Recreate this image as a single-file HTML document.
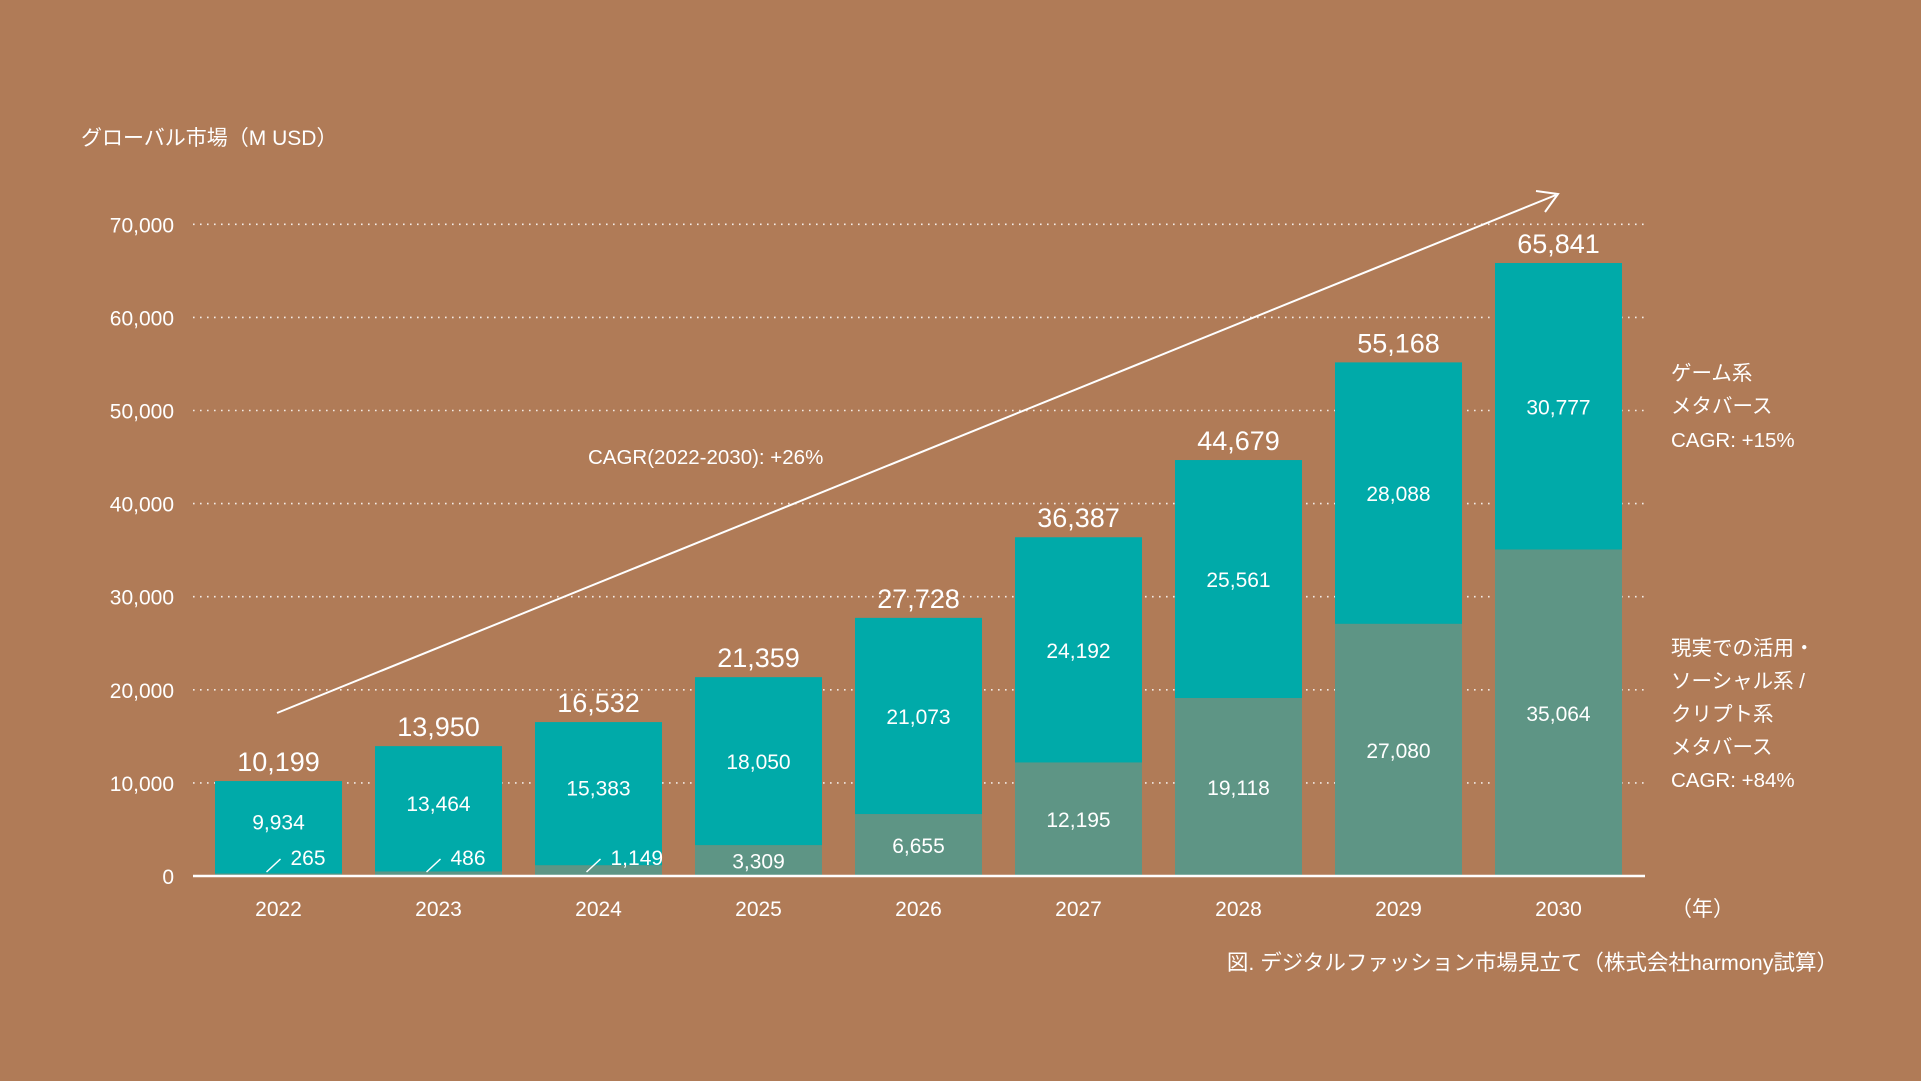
<!DOCTYPE html>
<html><head><meta charset="utf-8">
<style>
html,body{margin:0;padding:0;background:#b07b57;}
svg{display:block;font-family:"Liberation Sans","Noto Sans CJK JP",sans-serif;}
</style></head>
<body>
<svg id="chart" width="1921" height="1081" viewBox="0 0 1921 1081" xmlns="http://www.w3.org/2000/svg">
<rect width="1921" height="1081" fill="#b07b57"/>
<text x="81" y="145" fill="#fff" font-size="21">グローバル市場（M USD）</text>
<g id="grid"></g>
<g id="bars"></g>
<line x1="193" y1="876" x2="1645" y2="876" stroke="#fff" stroke-width="2.5"/>
<g>
<line x1="277" y1="713" x2="1556" y2="195" stroke="#fff" stroke-width="2"/>
<polyline points="1536,191 1558,194 1545,212" fill="none" stroke="#fff" stroke-width="2"/>
</g>
<text x="588" y="464" fill="#fff" font-size="20.5">CAGR(2022-2030): +26%</text>
<g fill="#fff" font-size="20.5">
<text x="1671" y="380">ゲーム系</text><text x="1671" y="413">メタバース</text><text x="1671" y="447">CAGR: +15%</text>
</g>
<g fill="#fff" font-size="20.5">
<text x="1671" y="655">現実での活用・</text><text x="1671" y="688">ソーシャル系 /</text><text x="1671" y="721">クリプト系</text><text x="1671" y="754">メタバース</text><text x="1671" y="787">CAGR: +84%</text>
</g>
<text x="1671" y="916" fill="#fff" font-size="21">（年）</text>
<text x="1838" y="970" fill="#fff" font-size="21.5" text-anchor="end">図. デジタルファッション市場見立て（株式会社harmony試算）</text>
</svg>
<script>
const years = ["2022","2023","2024","2025","2026","2027","2028","2029","2030"];
const realValues = [265,486,1149,3309,6655,12195,19118,27080,35064];
const gameValues = [9934,13464,15383,18050,21073,24192,25561,28088,30777];
const totalValues = [10199,13950,16532,21359,27728,36387,44679,55168,65841];
const yTicks = [0,10000,20000,30000,40000,50000,60000,70000];

const NS = "http://www.w3.org/2000/svg";
const y0 = 876, yPer = 0.00931;
const yScale = v => y0 - v * yPer;
const xCenter = i => 278.5 + i * 160;
const barW = 127;
const fmt = v => v.toLocaleString("en-US");
function mk(tag, attrs, parent, text){
  const e = document.createElementNS(NS, tag);
  for (const k in attrs) e.setAttribute(k, attrs[k]);
  if (text !== undefined) e.textContent = text;
  parent.appendChild(e);
  return e;
}
const grid = document.getElementById("grid");
yTicks.forEach(t => {
  const y = yScale(t);
  if (t > 0) {
    const l = mk("line", {x1:193, y1:y, x2:1645, y2:y, stroke:"#fff", "stroke-width":1.6, "stroke-dasharray":"1.6 5.4", opacity:0.85}, grid);
    
    
  }
  const tx = mk("text", {x:174, y:y+8, fill:"#fff", "font-size":21, "text-anchor":"end"}, grid, fmt(t));
  
  
});
const bars = document.getElementById("bars");
years.forEach((yr, i) => {
  const cx = xCenter(i), x = cx - barW/2;
  const r = realValues[i], g = gameValues[i], tot = totalValues[i];
  const yr0 = yScale(r), yg = yScale(r + g);
  const small = (y0 - yr0) < 25;
  const b1 = mk("rect", {x:x, y:yr0, width:barW, height:y0 - yr0, fill:"#5e9585"}, bars);
  
  
  const b2 = mk("rect", {x:x, y:yg, width:barW, height:yr0 - yg, fill:"#00aaa9"}, bars);
  
  
  const gl = mk("text", {x:cx, y:(yg + yr0)/2 + (small ? 2 : 8), fill:"#fff", "font-size":21, "text-anchor":"middle"}, bars, fmt(g));
  
  
  let rl;
  if (small) {
    const sl = mk("line", {x1:cx-12, y1:y0-4, x2:cx+2, y2:y0-17, stroke:"#fff", "stroke-width":1.5}, bars);
    
    
    rl = mk("text", {x:cx+12, y:y0-11, fill:"#fff", "font-size":21}, bars, fmt(r));
  } else {
    rl = mk("text", {x:cx, y:(yr0 + y0)/2 + 8, fill:"#fff", "font-size":21, "text-anchor":"middle"}, bars, fmt(r));
  }
  
  
  const tl = mk("text", {x:cx, y:yScale(tot) - 10, fill:"#fff", "font-size":27, "text-anchor":"middle"}, bars, fmt(tot));
  
  
  const xl = mk("text", {x:cx, y:916, fill:"#fff", "font-size":21, "text-anchor":"middle"}, bars, yr);
  
  
});
</script>
</body></html>
